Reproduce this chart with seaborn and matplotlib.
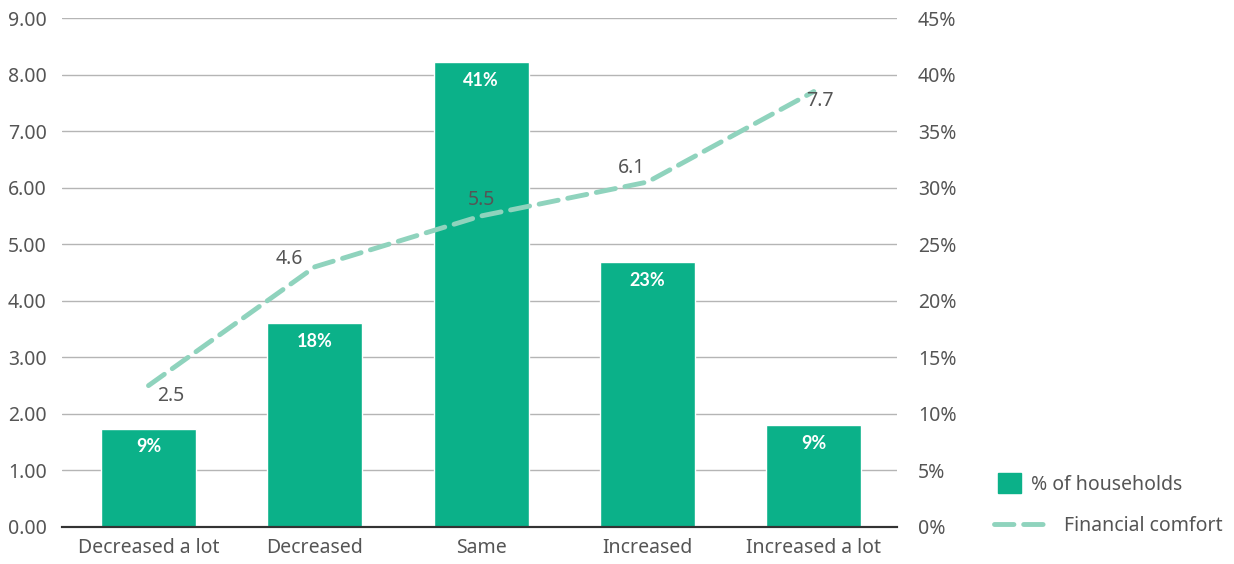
import matplotlib
matplotlib.use("Agg")
import matplotlib.pyplot as plt
import seaborn as sns
import numpy as np
from matplotlib.patches import Patch
from matplotlib.lines import Line2D

# data
categories = ["Decreased a lot", "Decreased", "Same", "Increased", "Increased a lot"]
households_pct = [8.7, 18.0, 41.1, 23.4, 9.0]
bar_labels = ["9%", "18%", "41%", "23%", "9%"]
comfort = [2.5, 4.6, 5.5, 6.1, 7.7]
comfort_labels = ["2.5", "4.6", "5.5", "6.1", "7.7"]

# label offsets (pixels) for the line values
label_offsets = [(22, -10), (-26, 8), (0, 16), (-16, 14), (6, -9)]

bar_color = "#0bb189"
line_color = "#8fd3bd"
text_color = "#555555"
fs = 14

sns.set_style("white")
plt.rcParams["font.family"] = ["Noto Sans", "DejaVu Sans"]

fig = plt.figure(figsize=(12.34, 5.64), dpi=100)
ax = fig.add_axes([62/1234, 1-527/564, (897-62)/1234, (527-18)/564])

# bars on the percent axis (shown on the right)
sns.barplot(x=categories, y=households_pct, color=bar_color, width=0.57,
            saturation=1, ax=ax)
ax.set_ylim(0, 45)
ax.set_yticks(np.arange(0, 46, 5))
ax.set_yticklabels([f"{v}%" for v in range(0, 46, 5)])
ax.grid(axis="y", color="#b5b5b5", linewidth=1)
ax.set_axisbelow(True)
ax.set_xlim(-0.52, 4.5)

for p, lab in zip(ax.patches, bar_labels):
    ax.annotate(lab, (p.get_x() + p.get_width()/2, p.get_height()),
                xytext=(0, -18), textcoords="offset pixels", ha="center", va="center",
                color="white", fontweight="bold", fontsize=13,
                family=["Lato", "DejaVu Sans"])

# line on the score axis (shown on the left)
ax2 = ax.twinx()
sns.pointplot(x=categories, y=comfort, color=line_color, markers="", linestyles="--",
              ax=ax2)
for ln in ax2.lines:
    ln.set_linewidth(3.5)
    ln.set_dashes([4, 2])
    ln.set_dash_capstyle("round")
ax2.set_ylim(0, 9)
ax2.set_yticks(np.arange(0, 10, 1))
ax2.set_yticklabels([f"{v:.2f}" for v in range(0, 10)])
ax2.set_xlim(-0.52, 4.5)

for i, (v, lab, off) in enumerate(zip(comfort, comfort_labels, label_offsets)):
    ax2.annotate(lab, (i, v), xytext=off, textcoords="offset pixels",
                 ha="center", va="center", color=text_color, fontsize=fs)

# swap sides: percent on the right, score on the left
ax.yaxis.tick_right()
ax2.yaxis.tick_left()

for a in (ax, ax2):
    for s in ["top", "left", "right"]:
        a.spines[s].set_visible(False)
    a.spines["bottom"].set_color("#333333")
    a.spines["bottom"].set_linewidth(1.5)
    a.tick_params(axis="both", length=0, labelsize=fs, colors=text_color)
    a.set_ylabel("")
    a.set_xlabel("")
ax.tick_params(axis="y", pad=15)
ax2.tick_params(axis="y", pad=11)
ax.tick_params(axis="x", pad=8)

leg1 = fig.legend([Patch(facecolor=bar_color, edgecolor=bar_color)], ["% of households"],
                  loc="center left", bbox_to_anchor=(980/1234, 1-484/564), frameon=False,
                  fontsize=fs, labelcolor=text_color, handlelength=1.2, handleheight=1.2,
                  handletextpad=0.5)
leg2 = fig.legend([Line2D([0], [0], color=line_color, linewidth=3.5,
                          linestyle=(0, (4, 2)), dash_capstyle="round")],
                  ["Financial comfort"], loc="center left",
                  bbox_to_anchor=(976/1234, 1-526/564), frameon=False, fontsize=fs,
                  labelcolor=text_color, handlelength=3.0, handletextpad=0.6)

fig.savefig("out.png", dpi=100)
